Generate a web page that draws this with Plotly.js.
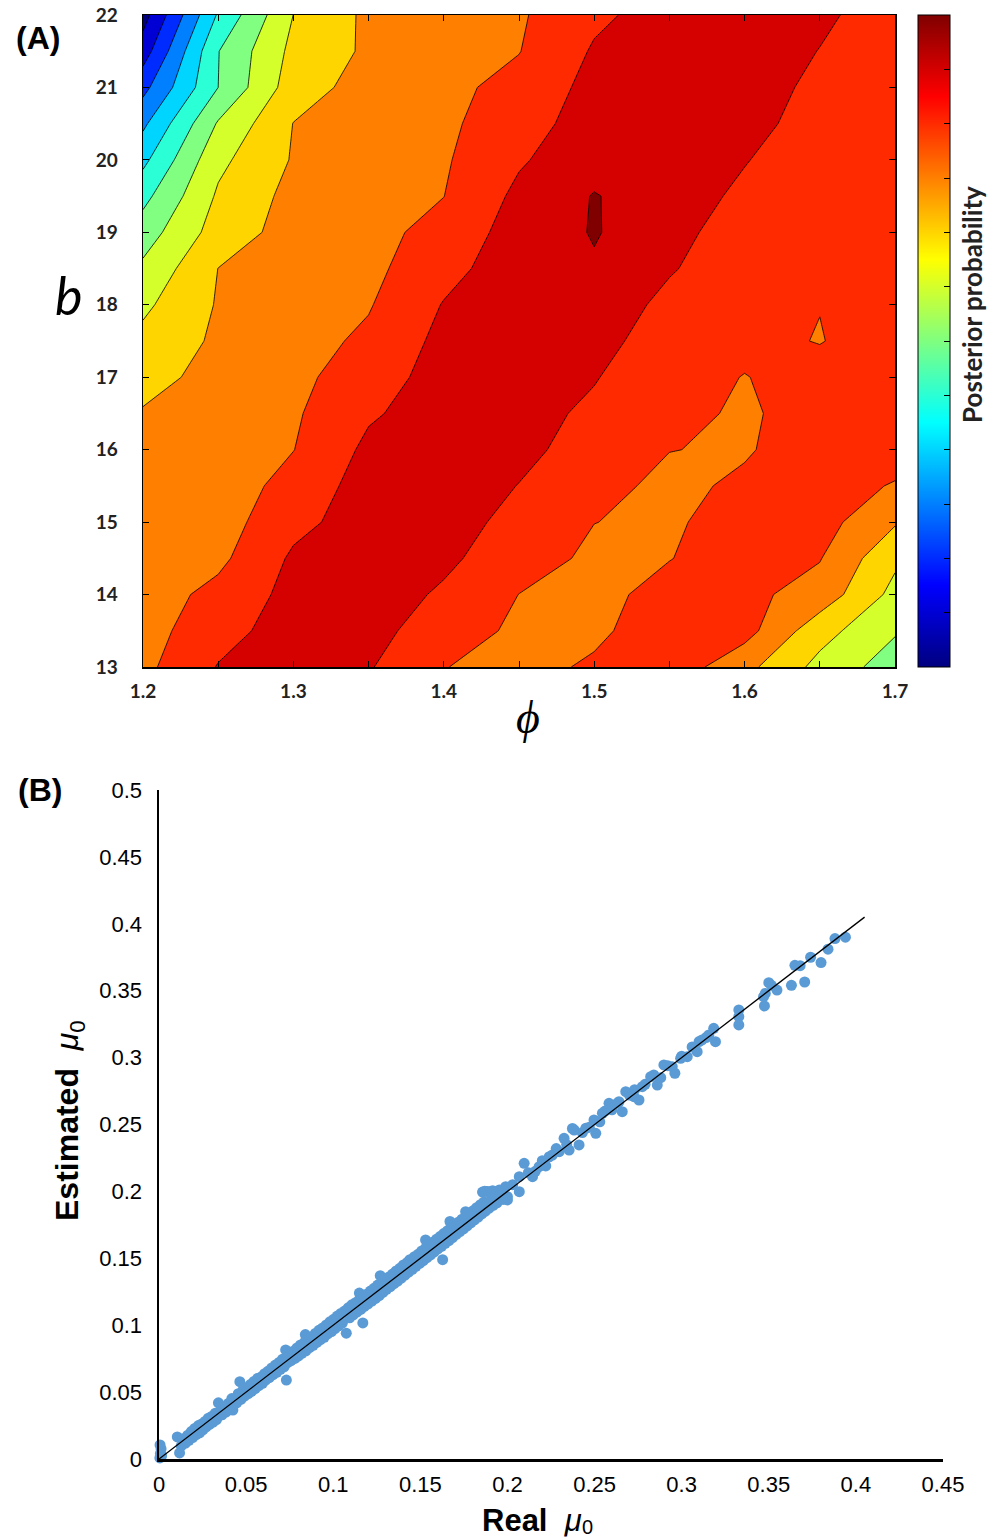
<!DOCTYPE html>
<html><head><meta charset="utf-8">
<script src="https://cdn.plot.ly/plotly-3.0.1.min.js"></script>
<style>html,body{margin:0;padding:0;background:#fff}#chart{width:990px;height:1538px}</style>
</head><body><div id="chart"></div>
<script>
// ---------- Panel A data: posterior grid ----------
const phiValues = [1.2, 1.25, 1.3, 1.35, 1.4, 1.45, 1.5, 1.55, 1.6, 1.65, 1.7];
const bValues = [13, 13.5, 14, 14.5, 15, 15.5, 16, 16.5, 17, 17.5, 18, 18.5, 19, 19.5, 20, 20.5, 21, 21.5, 22];
const posterior = [
  [9.75, 11.05, 11.5, 11.08, 10.02, 9.75, 10.11, 10.63, 9.3, 7.7, 6.5],
  [9.6, 10.64, 11.45, 11.4, 10.37, 9.86, 9.85, 10.43, 10.37, 8.38, 7.1],
  [9.5, 10.29, 11.3, 11.5, 10.86, 9.99, 9.7, 10.35, 10.25, 9.6, 7.7],
  [9.7, 9.77, 11.15, 11.55, 11.2, 10.42, 9.82, 9.97, 10.5, 10.05, 8.2],
  [9.6, 9.55, 10.73, 11.45, 11.3, 10.78, 10.01, 9.85, 10.45, 10.4, 9.1],
  [9.5, 9.4, 10.38, 11.4, 11.45, 10.98, 10.33, 9.75, 10.18, 10.3, 9.95],
  [9.3, 9.64, 9.98, 11.21, 11.5, 11.2, 10.67, 10.02, 9.9, 10.55, 10.3],
  [9.07, 9.47, 9.87, 10.88, 11.45, 11.3, 10.84, 10.3, 9.85, 10.45, 10.45],
  [8.7, 9.29, 9.75, 10.52, 11.4, 11.55, 11.05, 10.4, 9.97, 10.37, 10.5],
  [8.27, 9.17, 9.62, 10.18, 11.27, 11.6, 11.3, 10.56, 10.25, 9.96, 10.5],
  [7.8, 9.08, 9.5, 9.93, 11.05, 11.6, 11.7, 10.7, 10.4, 10.02, 10.4],
  [7.2, 9.01, 9.42, 9.75, 10.68, 11.55, 11.91, 11.1, 10.3, 10.2, 10.35],
  [6.5, 8.44, 9.4, 9.72, 10.3, 11.45, 12.06, 11.46, 10.3, 10.3, 10.35],
  [5.7, 8.14, 9.3, 9.65, 9.99, 11.22, 12.05, 11.5, 10.8, 10.35, 10.4],
  [4.75, 7.76, 9.08, 9.49, 9.89, 10.89, 11.63, 11.75, 11.05, 10.4, 10.4],
  [3.8, 7.1, 9.02, 9.41, 9.81, 10.58, 11.45, 11.7, 11.4, 10.5, 10.45],
  [2.7, 6.0, 8.53, 9.4, 9.75, 10.31, 11.3, 11.6, 11.5, 10.75, 10.5],
  [1.5, 5.97, 8.27, 9.16, 9.57, 9.97, 11.1, 11.5, 11.45, 10.98, 10.55],
  [0.6, 5.12, 8.01, 9.2, 9.48, 9.88, 10.81, 11.4, 11.35, 11.15, 10.6]
];
const levelStart = 1, levelEnd = 12, levelSize = 1;
const colorbarTicks = [1.5, 2.5, 3.5, 4.5, 5.5, 6.5, 7.5, 8.5, 9.5, 10.5, 11.5];

// ---------- Panel B data: real vs estimated mu0 ----------
const realMu = [
  0.0005,0.0008,0.0012,0.0006,0.0015,0.0118,0.0105,0.0128,0.0140,0.0152,
  0.0165,0.0172,0.0185,0.0193,0.0205,0.0214,0.0226,0.0233,0.0245,0.0252,
  0.0264,0.0271,0.0283,0.0290,0.0302,0.0311,0.0323,0.0330,0.0341,0.0345,
  0.0358,0.0362,0.0375,0.0384,0.0398,0.0405,0.0418,0.0424,0.0433,0.0446,
  0.0455,0.0464,0.0470,0.0482,0.0491,0.0503,0.0512,0.0524,0.0531,0.0545,
  0.0552,0.0566,0.0573,0.0585,0.0594,0.0606,0.0612,0.0625,0.0633,0.0647,
  0.0655,0.0668,0.0676,0.0689,0.0697,0.0708,0.0718,0.0727,0.0731,0.0738,
  0.0750,0.0758,0.0771,0.0780,0.0792,0.0801,0.0812,0.0820,0.0840,0.0835,
  0.0843,0.0856,0.0864,0.0877,0.0885,0.0897,0.0906,0.0918,0.0927,0.0939,
  0.0948,0.0960,0.0968,0.0981,0.0990,0.1002,0.1010,0.1023,0.1031,0.1044,
  0.1052,0.1065,0.1075,0.1086,0.1094,0.1107,0.1115,0.1128,0.1150,0.1170,
  0.1136,0.1149,0.1158,0.1171,0.1179,0.1192,0.1200,0.1213,0.1222,0.1234,
  0.1243,0.1255,0.1264,0.1270,0.1276,0.1285,0.1298,0.1306,0.1319,0.1328,
  0.1340,0.1349,0.1361,0.1370,0.1382,0.1391,0.1403,0.1412,0.1440,0.1424,
  0.1433,0.1445,0.1454,0.1466,0.1475,0.1487,0.1496,0.1508,0.1517,0.1530,
  0.1529,0.1538,0.1550,0.1559,0.1571,0.1580,0.1592,0.1601,0.1613,0.1622,
  0.1628,0.1634,0.1643,0.1655,0.1664,0.1670,0.1676,0.1685,0.1697,0.1706,
  0.1718,0.1727,0.1739,0.1748,0.1760,0.1762,0.1769,0.1781,0.1790,0.1802,
  0.1811,0.1823,0.1832,0.1844,0.1857,0.1870,0.1885,0.1900,0.1915,0.1930,
  0.1953,0.1853,0.1865,0.1874,0.1895,0.1908,0.1918,0.1940,0.1960,0.1975,
  0.1990,0.2000,0.2000,0.2030,0.2068,0.2068,0.2096,0.2120,0.2144,0.2160,
  0.2182,0.2200,0.2220,0.2240,0.2258,0.2280,0.2297,0.2325,0.2340,0.2354,
  0.2373,0.2383,0.2411,0.2430,0.2450,0.2470,0.2497,0.2507,0.2530,0.2545,
  0.2560,0.2583,0.2600,0.2631,0.2640,0.2659,0.2679,0.2700,0.2726,0.2730,
  0.2755,0.2774,0.2790,0.2822,0.2840,0.2860,0.2880,0.2898,0.2920,0.2946,
  0.2961,0.2994,0.3000,0.3032,0.3060,0.3089,0.3100,0.3117,0.3140,0.3156,
  0.3184,0.3194,0.3328,0.3328,0.3328,0.3475,0.3470,0.3480,0.3500,0.3515,
  0.3547,0.3630,0.3650,0.3680,0.3706,0.3740,0.3800,0.3840,0.3880,0.3940
];
const estMu = [
  0.0008,0.0040,0.0075,0.0105,0.0025,0.0045,0.0165,0.0098,0.0152,0.0118,
  0.0178,0.0140,0.0205,0.0160,0.0228,0.0182,0.0250,0.0196,0.0262,0.0218,
  0.0281,0.0240,0.0305,0.0258,0.0318,0.0276,0.0342,0.0295,0.0420,0.0322,
  0.0378,0.0330,0.0392,0.0351,0.0415,0.0368,0.0452,0.0366,0.0448,0.0420,
  0.0488,0.0578,0.0445,0.0515,0.0470,0.0532,0.0488,0.0556,0.0505,0.0580,
  0.0526,0.0602,0.0548,0.0612,0.0566,0.0638,0.0590,0.0655,0.0608,0.0681,
  0.0630,0.0702,0.0648,0.0722,0.0670,0.0745,0.0688,0.0815,0.0590,0.0720,
  0.0786,0.0735,0.0806,0.0752,0.0830,0.0770,0.0852,0.0790,0.0930,0.0872,
  0.0808,0.0895,0.0832,0.0912,0.0850,0.0938,0.0871,0.0962,0.0892,0.0980,
  0.0910,0.1002,0.0935,0.1025,0.0952,0.1044,0.0975,0.1068,0.0995,0.1088,
  0.1015,0.1106,0.0940,0.1130,0.1055,0.1152,0.1078,0.1168,0.1240,0.1017,
  0.1098,0.1190,0.1118,0.1212,0.1140,0.1232,0.1160,0.1255,0.1180,0.1276,
  0.1200,0.1300,0.1222,0.1370,0.1318,0.1245,0.1340,0.1268,0.1360,0.1288,
  0.1382,0.1310,0.1405,0.1330,0.1425,0.1352,0.1450,0.1375,0.1490,0.1468,
  0.1396,0.1488,0.1418,0.1512,0.1440,0.1530,0.1462,0.1555,0.1482,0.1637,
  0.1575,0.1505,0.1598,0.1525,0.1620,0.1548,0.1642,0.1570,0.1662,0.1590,
  0.1490,0.1685,0.1612,0.1705,0.1632,0.1775,0.1728,0.1655,0.1750,0.1678,
  0.1770,0.1700,0.1792,0.1720,0.1848,0.1812,0.1742,0.1835,0.1765,0.1855,
  0.1788,0.1878,0.1808,0.1900,0.1995,0.2002,0.2000,0.1998,0.2005,0.2000,
  0.2010,0.1832,0.1920,0.1852,0.1875,0.1945,0.1895,0.1915,0.1962,0.1940,
  0.2035,0.1936,0.1960,0.2050,0.1998,0.2110,0.2210,0.2140,0.2110,0.2150,
  0.2185,0.2230,0.2190,0.2259,0.2272,0.2320,0.2297,0.2397,0.2350,0.2309,
  0.2470,0.2459,0.2347,0.2440,0.2472,0.2480,0.2534,0.2434,0.2520,0.2584,
  0.2600,0.2658,0.2610,0.2658,0.2670,0.2596,0.2745,0.2720,0.2708,0.2760,
  0.2683,0.2783,0.2800,0.2857,0.2870,0.2795,0.2850,0.2945,0.2940,0.2932,
  0.2883,0.2995,0.3010,0.3007,0.3080,0.3044,0.3120,0.3132,0.3150,0.3169,
  0.3219,0.3119,0.3244,0.3306,0.3356,0.3386,0.3455,0.3480,0.3560,0.3540,
  0.3505,0.3540,0.3690,0.3687,0.3565,0.3750,0.3710,0.3810,0.3890,0.3900
];
const identityX = [0, 0.405];
const identityY = [0, 0.405];

// ---------- styling ----------
const W = 990, H = 1538;
const px = v => v / W;
const py = v => 1 - v / H;
const jet = [[0,'#000080'],[0.125,'#0000ff'],[0.375,'#00ffff'],[0.625,'#ffff00'],[0.875,'#ff0000'],[1,'#800000']];
const calib = 'Lato, "Open Sans", sans-serif';
const arial = '"Liberation Sans", Arial, sans-serif';

const traces = [
  { type:'heatmap', x:phiValues, y:bValues, z:posterior, colorscale:jet,
    zmin:levelStart - levelSize/2, zmax:levelEnd + levelSize/2, hoverinfo:'skip',
    xaxis:'x', yaxis:'y', showscale:true,
    colorbar:{ x:px(918), xanchor:'left', y:py(15), yanchor:'top',
      len:652, lenmode:'pixels', thickness:32, thicknessmode:'pixels',
      xpad:0, ypad:0, outlinewidth:1, outlinecolor:'#000', borderwidth:0,
      ticks:'inside', ticklen:6, tickcolor:'#000', tickvals:colorbarTicks, showticklabels:false } },
  { type:'contour', x:phiValues, y:bValues, z:posterior, colorscale:jet, showscale:false,
    xaxis:'x', yaxis:'y', hoverinfo:'x+y+z',
    contours:{ start:levelStart, end:levelEnd, size:levelSize, coloring:'fill', showlines:true },
    line:{ color:'#000', width:0.8, smoothing:0 } },
  { type:'scatter', mode:'markers', x:realMu, y:estMu, xaxis:'x2', yaxis:'y2',
    marker:{ color:'#5B9BD5', size:11 }, cliponaxis:false },
  { type:'scatter', mode:'lines', x:identityX, y:identityY, xaxis:'x2', yaxis:'y2',
    line:{ color:'#000', width:1.3 } }
];

const axA = { showgrid:false, zeroline:false, showline:true, linecolor:'#000', linewidth:1.5,
  mirror:'allticks', ticks:'inside', ticklen:6, tickwidth:1, tickcolor:'#000',
  tickfont:{ family:calib, size:19, color:'#222', weight:'bold' } };
const axB = { showgrid:false, zeroline:false, showline:true, linecolor:'#000', linewidth:2.5,
  ticks:'', tickfont:{ family:arial, size:22, color:'#000' } };

function ann(text, x, y, font, extra) {
  return Object.assign({ text:text, x:px(x), y:py(y), xref:'paper', yref:'paper', showarrow:false,
    xanchor:'center', yanchor:'middle', font:font }, extra || {});
}

const layout = {
  width:W, height:H, margin:{l:0,r:0,t:0,b:0}, paper_bgcolor:'#fff', plot_bgcolor:'#fff',
  showlegend:false,
  xaxis: Object.assign({}, axA, { domain:[px(143), px(895)], range:[1.2,1.7], anchor:'y',
    tick0:1.2, dtick:0.1, ticklabelstandoff:7,
    minor:{ tick0:1.2, dtick:0.05, ticks:'inside', ticklen:6, tickcolor:'#000', showgrid:false } }),
  yaxis: Object.assign({}, axA, { domain:[py(667), py(15)], range:[13,22], anchor:'x',
    tick0:13, dtick:1, ticklabelstandoff:20 }),
  xaxis2: Object.assign({}, axB, { domain:[px(159), px(943)], range:[0,0.45], anchor:'y2',
    tick0:0, dtick:0.05, ticklabelstandoff:4 }),
  yaxis2: Object.assign({}, axB, { domain:[py(1459), py(790)], range:[0,0.5], anchor:'x2',
    tick0:0, dtick:0.05, ticklabelstandoff:10 }),
  annotations: [
    ann('<b>(A)</b>', 38, 38, { family:arial, size:32, color:'#000' }),
    ann('b', 68, 295, { family:calib, size:52, color:'#000', style:'italic' }),
    ann('ϕ', 528, 718, { family:'"Liberation Serif", "DejaVu Serif", serif', size:46, color:'#000', style:'italic' }),
    ann('<b>Posterior probability</b>', 972, 305, { family:calib, size:26, color:'#222' }, { textangle:-90 }),
    ann('<b>(B)</b>', 40, 790, { family:arial, size:32, color:'#000' }),
    ann('<b>Estimated</b>  <i>μ</i><sub>0</sub>', 69, 1121, { family:arial, size:32, color:'#000' }, { textangle:-90 }),
    ann('<b>Real</b>  <i>μ</i>', 532, 1520, { family:arial, size:31, color:'#000' }),
    ann('0', 587, 1527, { family:arial, size:20, color:'#000' })
  ]
};

Plotly.newPlot('chart', traces, layout, { staticPlot:true, displayModeBar:false });
</script>
</body></html>
